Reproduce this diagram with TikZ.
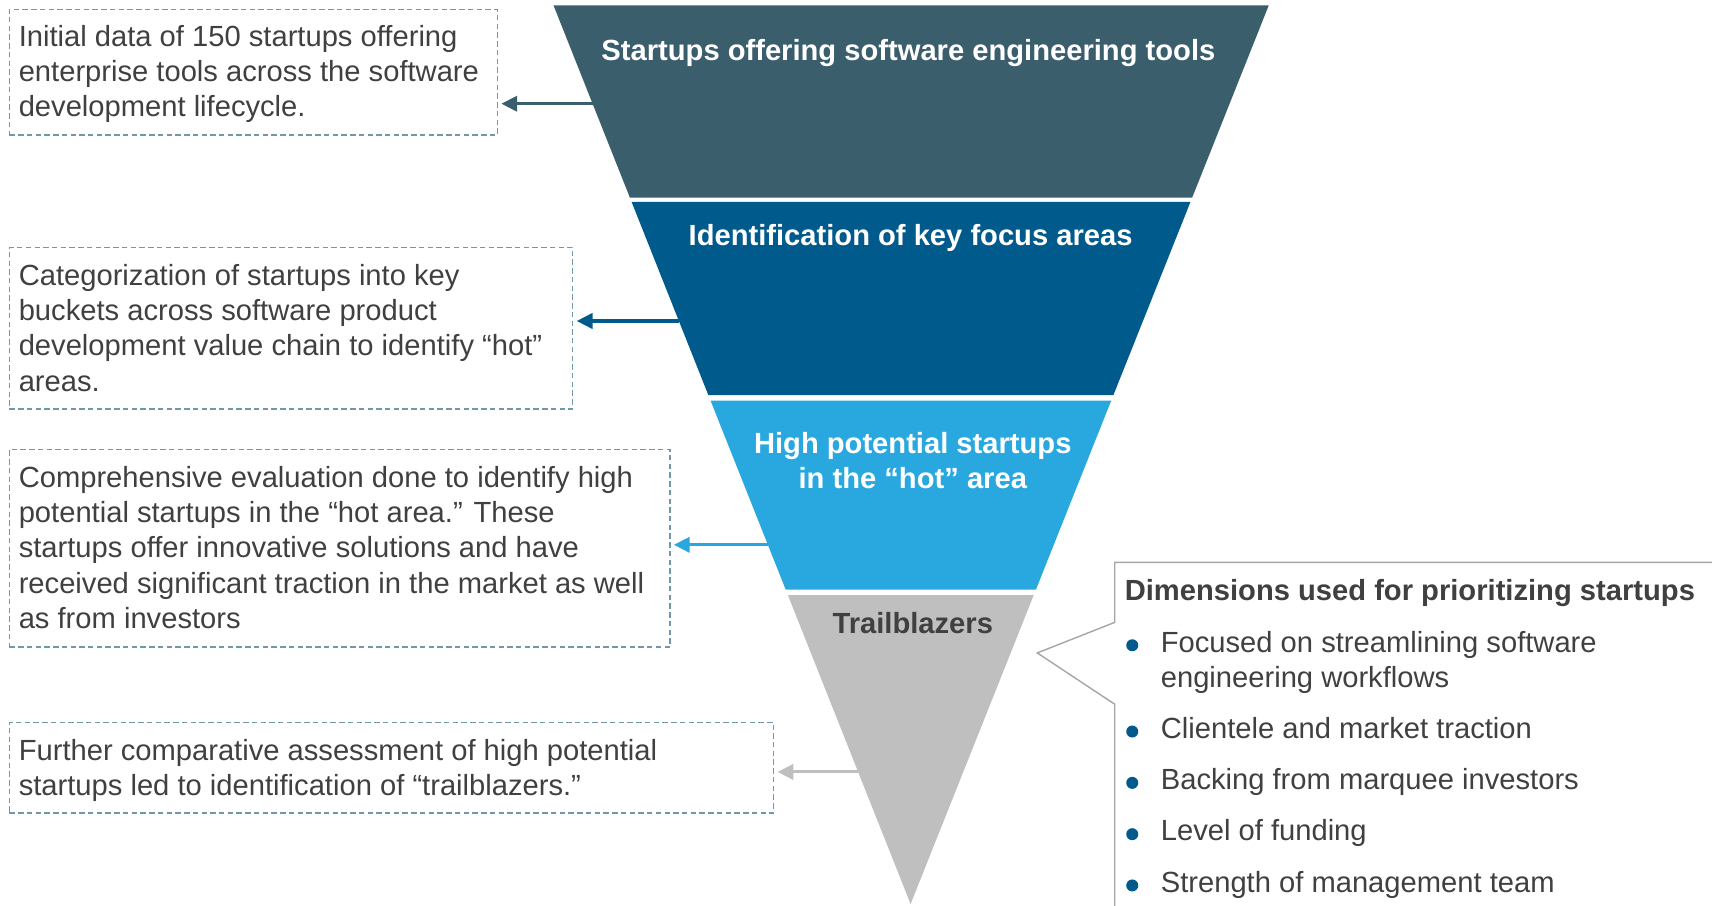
\documentclass[tikz,border=0pt]{standalone}
\usepackage{fontspec}
\setmainfont{Liberation Sans}
\usetikzlibrary{arrows.meta}
\definecolor{segA}{HTML}{3B5E6D}
\definecolor{segB}{HTML}{005A8C}
\definecolor{segC}{HTML}{29A8E0}
\definecolor{segD}{HTML}{BFBFBF}
\definecolor{txt}{HTML}{404040}
\definecolor{dashc}{HTML}{7098AA}
\definecolor{callc}{HTML}{A6A6A6}
\begin{document}
\begin{tikzpicture}[x=1pt,y=-1pt,
  body/.style={font=\fontsize{26.7}{32.4}\selectfont, text=txt, align=left, inner sep=0pt, anchor=north west},
  ttl/.style={font=\fontsize{26.7}{32}\selectfont\bfseries, text=white, inner sep=0pt, align=center},
  dbox/.style={draw=dashc, dash pattern=on 5pt off 3pt, line width=1.2pt, inner sep=0pt, anchor=north west},
  arr/.style={line width=2.8pt, -{Triangle[length=14.5pt,width=14pt]}, shorten >=3pt},
  bul/.style={font=\fontsize{26.7}{32}\selectfont, text=txt, inner sep=0pt, anchor=base west, align=left}]
\useasboundingbox (0,0) rectangle (1568,829);
% funnel
\fill[segA] (507,5) -- (1162,5) -- (1091.9,181) -- (576.9,181) -- cycle;
\fill[segB] (578.5,185) -- (1090.3,185) -- (1019.7,362) -- (648.8,362) -- cycle;
\fill[segC] (650.8,367) -- (1017.7,367) -- (948.8,540) -- (719.6,540) -- cycle;
\fill[segD] (721.6,545) -- (946.8,545) -- (834,828) -- cycle;
\node[ttl, anchor=base] (s1) at (832,55) {Startups offering software engineering tools};
\node[ttl, anchor=base] (s2) at (834,225) {Identification of key focus areas};
\node[ttl, anchor=north] (s3) at (836,395) {\rule{0pt}{20pt}High potential startups\\in the “hot” area};
\node[ttl, anchor=base, text=txt] (s4) at (836,580) {Trailblazers};
% funnel edge points
\coordinate (e1) at (542.8,95);
\coordinate (e2) at (621.8,294);
\coordinate (e3) at (703.3,499);
\coordinate (e4) at (785.9,707);
% dashed boxes
\node[dbox, minimum width=447pt, minimum height=115pt] (b1) at (8,8) {};
\node[dbox, minimum width=516pt, minimum height=148pt] (b2) at (8,226) {};
\node[dbox, minimum width=605pt, minimum height=181pt] (b3) at (8,411) {};
\node[dbox, minimum width=700pt, minimum height=83pt] (b4) at (8,661) {};
\node[body] (t1) at (17,22) {\rule{0pt}{20pt}Initial data of 150 startups offering\\enterprise tools across the software\\development lifecycle.};
\node[body] (t2) at (17,241) {\rule{0pt}{20pt}Categorization of startups into key\\buckets across software product\\development value chain to identify “hot”\\areas.};
\node[body] (t3) at (17,426) {\rule{0pt}{20pt}Comprehensive evaluation done to identify high\\potential startups in the “hot area.” These\\startups offer innovative solutions and have\\received significant traction in the market as well\\as from investors};
\node[body] (t4) at (17,676) {\rule{0pt}{20pt}Further comparative assessment of high potential\\startups led to identification of “trailblazers.”};
% arrows
\draw[arr, segA] (e1) -- (b1.east |- e1);
\draw[arr, segB] (e2) -- (b2.east |- e2);
\draw[arr, segC] (e3) -- (b3.east |- e3);
\draw[arr, segD] (e4) -- (b4.east |- e4);
% callout
\begin{scope}
\clip (0,0) rectangle (1568,829);
\draw[callc, line width=1.3pt] (1021,860) -- (1021,645) -- (950,598) -- (1021,570) -- (1021,515) -- (1600,515);
\end{scope}
\node[bul, font=\fontsize{26.7}{32}\selectfont\bfseries] (ct) at (1030,550) {Dimensions used for prioritizing startups};
\node[body] (i1) at (1063,577) {\rule{0pt}{20pt}Focused on streamlining software\\engineering workflows};
\node[bul] (i2) at (1063,676) {Clientele and market traction};
\node[bul] (i3) at (1063,723) {Backing from marquee investors};
\node[bul] (i4) at (1063,770) {Level of funding};
\node[bul] (i5) at (1063,817) {Strength of management team};
\fill[segB] (1037,591) circle (5.5pt);
\fill[segB] (1037,670) circle (5.5pt);
\fill[segB] (1037,717) circle (5.5pt);
\fill[segB] (1037,764) circle (5.5pt);
\fill[segB] (1037,811) circle (5.5pt);
\end{tikzpicture}
\end{document}
